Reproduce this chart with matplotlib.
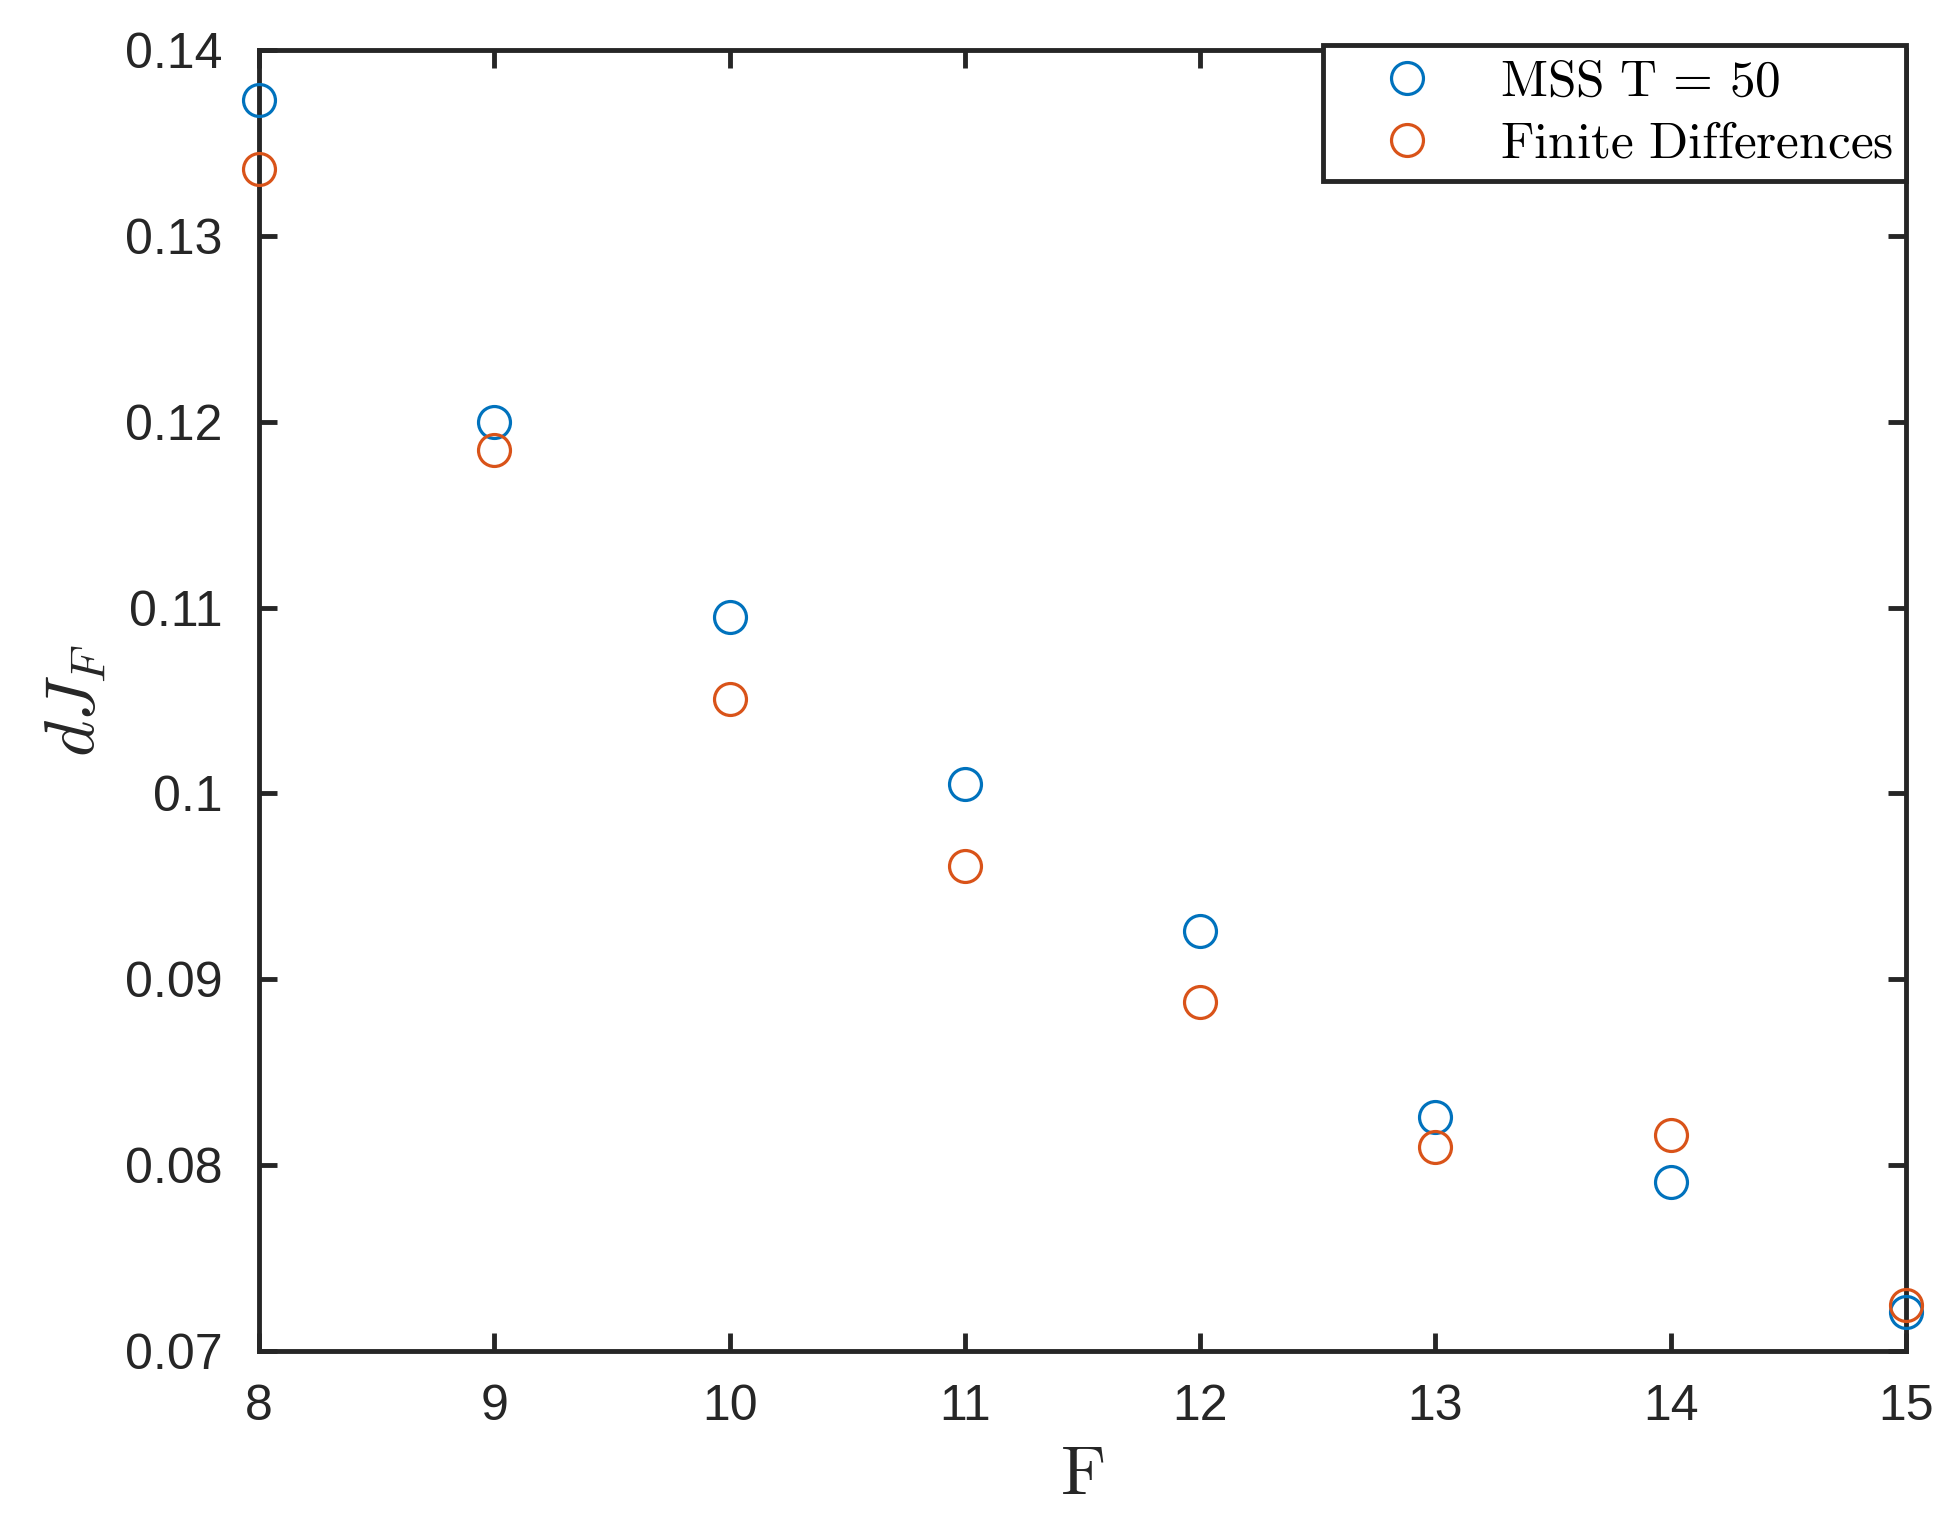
import matplotlib
matplotlib.use('Agg')
import matplotlib.pyplot as plt
import numpy as np

plt.rcParams['font.family'] = ['Liberation Sans', 'DejaVu Sans']
plt.rcParams['mathtext.fontset'] = 'cm'

# Data
F = [8, 9, 10, 11, 12, 13, 14, 15]
mss_t50 = [0.1373, 0.1200, 0.1095, 0.1005, 0.0926, 0.0826, 0.0791, 0.0721]
finite_diff = [0.1336, 0.1185, 0.1051, 0.0961, 0.0888, 0.0810, 0.0816, 0.0725]

y_ticks = [0.07, 0.08, 0.09, 0.10, 0.11, 0.12, 0.13, 0.14]

blue = '#0072BD'
orange = '#D95319'
dark = '#262626'

fig = plt.figure(figsize=(19.47, 15.17), dpi=100)
ax = fig.add_axes([0.1330, 0.1094, 0.8460, 0.8576])

ax.plot(F, mss_t50, 'o', mfc='none', mec=blue, ms=23, mew=2.3,
        clip_on=False, zorder=3, label=r'$\mathrm{MSS\ T\,=\,50}$')
ax.plot(F, finite_diff, 'o', mfc='none', mec=orange, ms=23, mew=2.3,
        clip_on=False, zorder=3, label=r'$\mathrm{Finite\ Differences}$')

ax.set_xlim(8, 15)
ax.set_ylim(0.07, 0.14)
ax.set_xticks(F)
ax.set_yticks(y_ticks)
ax.set_yticklabels([f'{v:g}' for v in y_ticks])

for s in ax.spines.values():
    s.set_linewidth(3.5)
    s.set_color(dark)

ax.tick_params(direction='in', length=13, width=3.5, colors=dark,
               labelsize=36, top=True, right=True)
ax.tick_params(axis='x', pad=24)
ax.tick_params(axis='y', pad=26)

ax.set_xlabel(r'$\mathrm{F}$', fontsize=50, color=dark, labelpad=10)
ax.set_ylabel(r'$dJ_F$', fontsize=50, color=dark, labelpad=12)

leg = ax.legend(loc='upper right', bbox_to_anchor=(1.0, 1.004),
                fontsize=37, borderaxespad=0,
                frameon=True, fancybox=False, framealpha=1,
                handlelength=2.8, handletextpad=0.4, borderpad=0.25,
                labelspacing=0.25)
leg.get_frame().set_edgecolor(dark)
leg.get_frame().set_linewidth(3.5)
leg.set_zorder(5)

fig.savefig('out.png', dpi=100)
